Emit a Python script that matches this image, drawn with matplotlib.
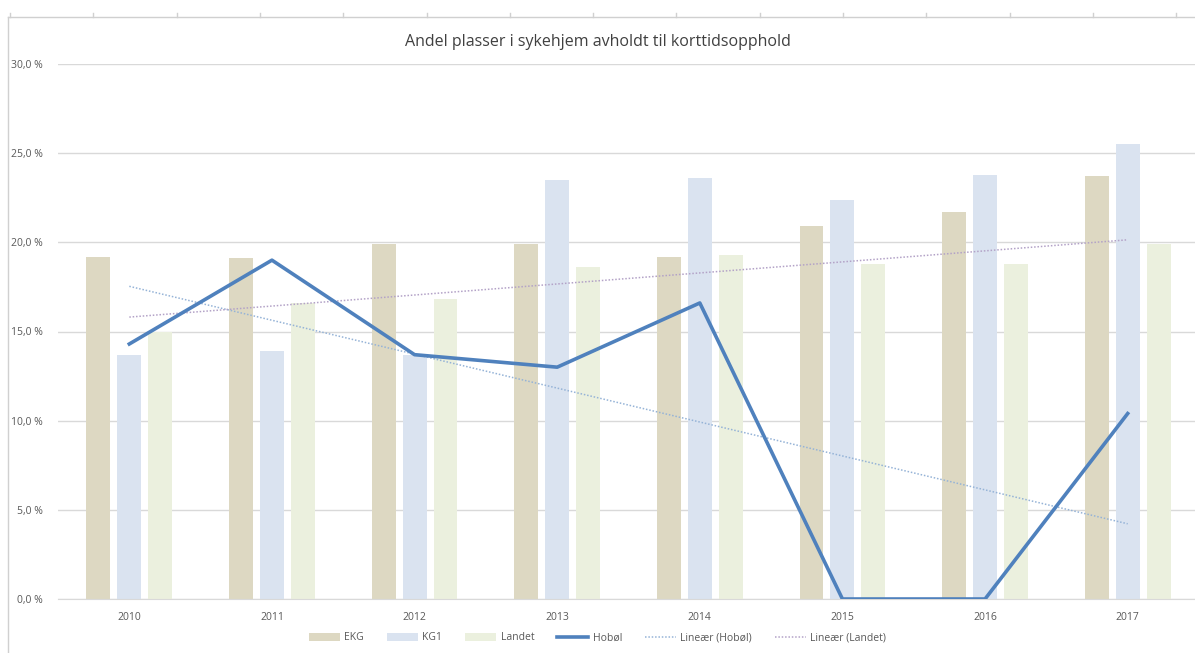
import matplotlib.pyplot as plt
import numpy as np

years = ['2010', '2011', '2012', '2013', '2014', '2015', '2016', '2017']
ekg = [19.2, 19.1, 19.9, 19.9, 19.2, 20.9, 21.7, 23.7]
kg1 = [13.7, 13.9, 13.7, 23.5, 23.6, 22.4, 23.8, 25.5]
landet = [15.0, 16.6, 16.8, 18.6, 19.3, 18.8, 18.8, 19.9]
hobol = [14.3, 19.0, 13.7, 13.0, 16.6, 0.0, 0.0, 10.4]

plt.rcParams['font.family'] = ['Open Sans', 'DejaVu Sans']

fig = plt.figure(figsize=(11.95, 6.53), dpi=100)
ax = fig.add_axes([58 / 1195, 1 - 599 / 653, 1141 / 1195, (599 - 64) / 653])

x = np.arange(len(years))
w = 0.168
d = 0.217
b1 = ax.bar(x - d, ekg, width=w, color='#ddd8c2', label='EKG', zorder=2)
b2 = ax.bar(x, kg1, width=w, color='#dae3f0', label='KG1', zorder=2)
b3 = ax.bar(x + d, landet, width=w, color='#ebf0de', label='Landet', zorder=2)
l1, = ax.plot(x, hobol, color='#4f81bd', lw=2.6, label='Hobøl', zorder=4)

# Excel-style linear trendlines
ph = np.polyfit(x, hobol, 1)
pl = np.polyfit(x, landet, 1)
l2, = ax.plot(x, np.polyval(ph, x), color='#95b3d7', lw=1.1, ls=(0, (1, 1.2)),
              label='Lineær (Hobøl)', zorder=3)
l3, = ax.plot(x, np.polyval(pl, x), color='#b3a2c7', lw=1.1, ls=(0, (1, 1.2)),
              label='Lineær (Landet)', zorder=3)

ax.set_xlim(-0.5, 7.5)
ax.set_ylim(0, 30)
ax.set_yticks(np.arange(0, 31, 5))
ax.set_yticklabels([('%.1f %%' % v).replace('.', ',') for v in np.arange(0, 31, 5)])
ax.set_xticks(x)
ax.set_xticklabels(years)
ax.tick_params(length=0, labelsize=7.5, labelcolor='#595959')
ax.tick_params(axis='y', pad=11)
ax.tick_params(axis='x', pad=9)
ax.grid(axis='y', color='#d9d9d9', lw=1, zorder=0)
for s in ['top', 'right', 'left']:
    ax.spines[s].set_visible(False)
ax.spines['bottom'].set_color('#d9d9d9')

fig.text(0.5, 1 - 42 / 653, 'Andel plasser i sykehjem avholdt til korttidsopphold',
         ha='center', va='center', fontsize=11.5, color='#404040')

fig.legend(handles=[b1, b2, b3, l1, l2, l3], loc='center',
           bbox_to_anchor=(0.5, 1 - 638 / 653), ncol=6, frameon=False,
           fontsize=7.5, labelcolor='#595959', handlelength=3, columnspacing=2.2,
           handletextpad=0.4)

# outer chart frame (spreadsheet border)
fig.add_artist(plt.Line2D([8 / 1195, 8 / 1195], [0, 1 - 17 / 653], color='#d0d0d0', lw=1))
fig.add_artist(plt.Line2D([8 / 1195, 1], [1 - 17 / 653, 1 - 17 / 653], color='#d0d0d0', lw=1))
for tx in np.arange(10, 1195, 83.3):
    fig.add_artist(plt.Line2D([tx / 1195, tx / 1195], [1 - 17 / 653, 1 - 13 / 653],
                              color='#d0d0d0', lw=1))

fig.savefig('out.png', dpi=100)
